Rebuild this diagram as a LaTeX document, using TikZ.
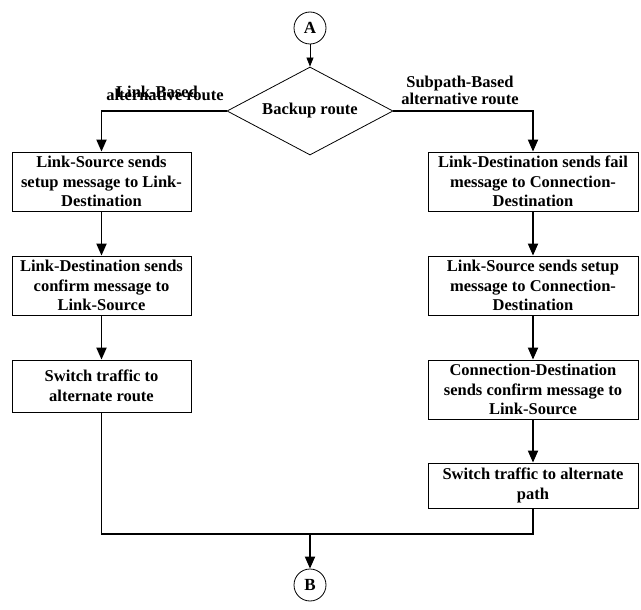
\documentclass[tikz,border=0pt]{standalone}
\usepackage{fontspec}
\setmainfont{Liberation Serif}
\usetikzlibrary{arrows.meta,shapes.geometric}

\tikzset{
	stepbox/.style={draw, line width=0.8pt, align=center, inner sep=0pt,
		font=\bfseries\fontsize{16.5}{19.5}\selectfont},
	connector/.style={draw, circle, line width=0.8pt, minimum size=32pt, inner sep=0pt,
		font=\bfseries\fontsize{17}{20}\selectfont},
	branchlabel/.style={align=center, font=\bfseries\fontsize{16.5}{17}\selectfont},
	flow/.style={line width=1.8pt, -{Triangle[length=12pt,width=10pt]}},
	thinflow/.style={line width=0.8pt, -{Triangle[length=9pt,width=7pt]}},
	joinline/.style={line width=1.8pt}
}

\begin{document}
\begin{tikzpicture}[x=1pt, y=-1pt]
		\useasboundingbox (0,0) rectangle (641,610);
		\node[connector] (a) at (310, 28) {A};
		\node[draw, diamond, aspect=1.89, line width=0.8pt, minimum width=166pt, minimum height=88pt,
			inner sep=0pt, font=\bfseries\fontsize{16.5}{19.5}\selectfont] (backup) at (310, 111) {Backup route};
		\draw[thinflow] (a) -- (backup);
		%branch labels
		\node[branchlabel, anchor=base] (linklbl) at (157, 98) {Link-Based};
		\node[branchlabel, anchor=base] (linkalt) at (165, 101) {alternative route};
		\node[branchlabel] (subpathlbl) at (460, 90) {Subpath-Based\\alternative route};
		%link-based side
		\node[stepbox, minimum width=179pt, minimum height=59pt] (ls1) at (101.5, 181.5)
			{Link-Source sends\\setup message to Link-\\Destination};
		\node[stepbox, minimum width=179pt, minimum height=59pt] (ls2) at (101.5, 285.5)
			{Link-Destination sends\\confirm message to\\Link-Source};
		\node[stepbox, minimum width=179pt, minimum height=52pt] (ls3) at (101.5, 386)
			{Switch traffic to\\alternate route};
		%subpath-based side
		\node[stepbox, minimum width=210pt, minimum height=59pt] (rs1) at (533, 181.5)
			{Link-Destination sends fail\\message to Connection-\\Destination};
		\node[stepbox, minimum width=210pt, minimum height=59pt] (rs2) at (533, 285.5)
			{Link-Source sends setup\\message to Connection-\\Destination};
		\node[stepbox, minimum width=210pt, minimum height=59pt] (rs3) at (533, 389.5)
			{Connection-Destination\\sends confirm message to\\Link-Source};
		\node[stepbox, minimum width=210pt, minimum height=45pt] (rs4) at (533, 485.5)
			{Switch traffic to alternate\\path};
		\node[connector] (b) at (310, 585) {B};
		\coordinate (merge) at (310, 534);
		%arrows
		\draw[flow] (backup.west) -| (ls1.north);
		\draw[flow] (backup.east) -| (rs1.north);
		\foreach \u/\v in {ls1/ls2, ls2/ls3, rs1/rs2, rs2/rs3, rs3/rs4}
			\draw[flow] (\u) -- (\v);
		\draw[joinline] (ls3.south) |- (merge);
		\draw[joinline] (rs4.south) |- (merge);
		\draw[flow] (merge) -- (b);
\end{tikzpicture}
\end{document}
